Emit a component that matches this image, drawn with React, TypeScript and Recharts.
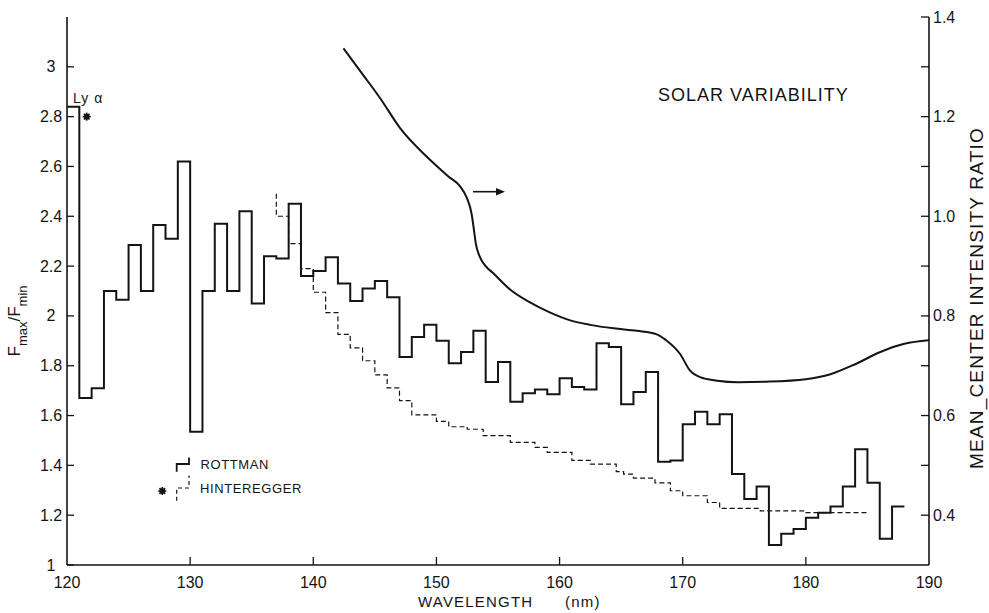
import React from 'react';
import { ComposedChart, Line, XAxis, YAxis, Scatter, Customized } from 'recharts';

// Rottman F_max/F_min, 1 nm bins (value holds from wl to next wl)
const rottmanWl = [120,121,122,123,124,125,126,127,128,129,130,131,132,133,134,135,136,137,138,139,140,141,142,143,144,145,146,147,148,149,150,151,152,153,154,155,156,157,158,159,160,161,162,163,164,165,166,167,168,169,170,171,172,173,174,175,176,177,178,179,180,181,182,183,184,185,186,187,188];
const rottmanRatio = [2.84,1.67,1.71,2.10,2.065,2.285,2.10,2.365,2.31,2.62,1.535,2.10,2.37,2.10,2.42,2.05,2.24,2.23,2.45,2.16,2.18,2.235,2.13,2.06,2.11,2.14,2.075,1.835,1.915,1.965,1.90,1.81,1.855,1.94,1.735,1.815,1.655,1.69,1.705,1.685,1.75,1.715,1.705,1.89,1.875,1.645,1.695,1.775,1.415,1.42,1.565,1.615,1.565,1.605,1.365,1.265,1.315,1.08,1.125,1.145,1.19,1.21,1.235,1.315,1.465,1.33,1.105,1.235,1.235];

// Hinteregger F_max/F_min (dashed steps)
const hintWl = [137,137,138,139,140,141,142,143,144,145,146,147,148,150,151,152.5,153.8,156,158,159,161,162.5,164.6,165.2,166,167.75,169,170,172,173,176.3,180,185];
const hintRatio = [2.49,2.40,2.29,2.19,2.095,2.013,1.926,1.872,1.82,1.763,1.711,1.66,1.603,1.577,1.555,1.545,1.519,1.492,1.472,1.452,1.42,1.405,1.375,1.365,1.349,1.33,1.298,1.278,1.251,1.227,1.217,1.21,1.21];

// Mean-center intensity ratio (right axis)
const mcWl = [142.45,144.07,145.43,147.05,149.2,150.97,151.92,152.47,152.87,153.06,153.2,153.5,154.0,154.6,155.98,157.6,159.2,160.87,162.5,164.4,166.3,167.9,168.6,169.8,170.6,171.4,172.8,174.5,176.8,180,182,184,186,188,190];
const mcRatio = [1.337,1.283,1.237,1.177,1.12,1.08,1.06,1.037,1.003,0.97,0.945,0.92,0.9,0.886,0.853,0.827,0.807,0.791,0.782,0.775,0.77,0.763,0.752,0.723,0.69,0.677,0.67,0.667,0.668,0.673,0.683,0.703,0.727,0.744,0.751];

// Hinteregger Ly alpha value
const lyWl = [121.6];
const lyRatio = [2.8];

const xTicks = [120,130,140,150,160,170,180,190];
const leftTicks = [1,1.2,1.4,1.6,1.8,2,2.2,2.4,2.6,2.8,3];
const rightTicks = [0.4,0.5,0.6,0.7,0.8,0.9,1.0,1.1,1.2,1.3,1.4];
const rightLabeled = [0.4,0.6,0.8,1.0,1.2,1.4];

const rottmanData = rottmanWl.map((w, i) => ({ wl: w, v: rottmanRatio[i] }));
const hintData = hintWl.map((w, i) => ({ wl: w, v: hintRatio[i] }));
const mcData = mcWl.map((w, i) => ({ wl: w, v: mcRatio[i] }));
const lyData = lyWl.map((w, i) => ({ wl: w, v: lyRatio[i] }));

const INK = '#141414';
const FONT = '"Liberation Sans", Arial, sans-serif';

const LeftTick = (p: any) => {
  const { x, y, payload } = p;
  return (
    <g>
      <line x1={x} x2={x + 7} y1={y} y2={y} stroke={INK} strokeWidth={1.3} />
      <text x={x - 16} y={y} textAnchor="middle" dominantBaseline="central" fontSize={16} fontFamily={FONT} fill={INK}>
        {String(payload.value)}
      </text>
    </g>
  );
};

const RightTick = (p: any) => {
  const { x, y, payload } = p;
  const lab = rightLabeled.some((v) => Math.abs(v - payload.value) < 1e-6);
  return (
    <g>
      <line x1={x} x2={x - 8} y1={y} y2={y} stroke={INK} strokeWidth={1.3} />
      {lab ? (
        <text x={x + 4} y={y} textAnchor="start" dominantBaseline="central" fontSize={16} fontFamily={FONT} fill={INK}>
          {Number(payload.value).toFixed(1)}
        </text>
      ) : null}
    </g>
  );
};

const BottomTick = (p: any) => {
  const { x, y, payload } = p;
  const inner = payload.value > 120 && payload.value < 190;
  return (
    <g>
      {inner ? <line x1={x} x2={x} y1={y} y2={y - 8} stroke={INK} strokeWidth={1.3} /> : null}
      <text x={x} y={y + 17} textAnchor="middle" dominantBaseline="central" fontSize={16} fontFamily={FONT} fill={INK}>
        {String(payload.value)}
      </text>
    </g>
  );
};

const TopTick = (p: any) => {
  const { x, y, payload } = p;
  const inner = payload.value > 120 && payload.value < 190;
  return inner ? <line x1={x} x2={x} y1={y} y2={y + 8} stroke={INK} strokeWidth={1.3} /> : <g />;
};

const Asterisk = ({ cx, cy }: any) => {
  const r = 4;
  const d = r * 0.7071;
  return (
    <g stroke={INK} strokeWidth={1.6}>
      <line x1={cx - r} x2={cx + r} y1={cy} y2={cy} />
      <line x1={cx} x2={cx} y1={cy - r} y2={cy + r} />
      <line x1={cx - d} x2={cx + d} y1={cy - d} y2={cy + d} />
      <line x1={cx - d} x2={cx + d} y1={cy + d} y2={cy - d} />
      <circle cx={cx} cy={cy} r={2} fill={INK} />
    </g>
  );
};

const Annotations = () => (
  <g fontFamily={FONT} fill={INK}>
    {/* Ly alpha */}
    <text x={73} y={98} fontSize={14} letterSpacing={1} dominantBaseline="central">Ly α</text>
    {/* title */}
    <text x={658} y={95} fontSize={18} letterSpacing={1} dominantBaseline="central">SOLAR VARIABILITY</text>
    {/* arrow */}
    <line x1={473} x2={498} y1={191.7} y2={191.7} stroke={INK} strokeWidth={1.6} />
    <path d="M505,191.7 L496,188 L496,195.4 Z" fill={INK} />
    {/* legend */}
    <path d="M176.7,471.7 V464 H189 V457.5" fill="none" stroke={INK} strokeWidth={1.8} />
    <text x={200.5} y={464.5} fontSize={13} letterSpacing={0.6} dominantBaseline="central">ROTTMAN</text>
    <path d="M176.7,500.7 V488 H189 V475.5" fill="none" stroke={INK} strokeWidth={1.2} strokeDasharray="4 3" />
    <text x={200} y={488.5} fontSize={13} letterSpacing={0.6} dominantBaseline="central">HINTEREGGER</text>
    <Asterisk cx={162.3} cy={491} />
    {/* axis titles */}
    <text x={418} y={601} fontSize={15} letterSpacing={1.2} dominantBaseline="central">WAVELENGTH</text>
    <text x={565} y={601} fontSize={15} letterSpacing={1.2} dominantBaseline="central">(nm)</text>
    <text x={20} y={321} transform="rotate(-90, 20, 321)" textAnchor="middle" fontSize={17}>
      F<tspan fontSize={13} dy={7}>max</tspan>
      <tspan dy={-7}>/F</tspan>
      <tspan fontSize={13} dy={7}>min</tspan>
    </text>
    <text x={983} y={298} transform="rotate(-90, 983, 298)" textAnchor="middle" fontSize={19} letterSpacing={1.2}>
      MEAN_CENTER INTENSITY RATIO
    </text>
  </g>
);

export default function App() {
  return (
    <div style={{ position: 'absolute', left: 0, top: 0, width: 989, height: 613, overflow: 'hidden', background: '#fff' }}>
      <ComposedChart width={989} height={613} margin={{ top: 17, right: 0, left: 0, bottom: 0 }}>
        <XAxis
          xAxisId="b"
          dataKey="wl"
          type="number"
          domain={[120, 190]}
          ticks={xTicks}
          allowDataOverflow
          height={48}
          tickSize={0}
          tickMargin={0}
          tickLine={false}
          tick={<BottomTick />}
          axisLine={{ stroke: INK, strokeWidth: 1.6 }}
        />
        <XAxis
          xAxisId="t"
          dataKey="wl"
          type="number"
          orientation="top"
          domain={[120, 190]}
          ticks={xTicks}
          allowDataOverflow
          height={0}
          tickSize={0}
          tickMargin={0}
          tickLine={false}
          tick={<TopTick />}
          axisLine={{ stroke: INK, strokeWidth: 1.6 }}
        />
        <YAxis
          yAxisId="left"
          type="number"
          domain={[1, 3.2]}
          ticks={leftTicks}
          allowDataOverflow
          width={67}
          tickSize={0}
          tickMargin={0}
          tickLine={false}
          tick={<LeftTick />}
          axisLine={{ stroke: INK, strokeWidth: 1.6 }}
        />
        <YAxis
          yAxisId="right"
          orientation="right"
          type="number"
          domain={[0.3, 1.4]}
          ticks={rightTicks}
          allowDataOverflow
          width={60}
          tickSize={0}
          tickMargin={0}
          tickLine={false}
          tick={<RightTick />}
          axisLine={{ stroke: INK, strokeWidth: 1.6 }}
        />
        <Line
          data={hintData}
          dataKey="v"
          xAxisId="b"
          yAxisId="left"
          type="stepAfter"
          stroke={INK}
          strokeWidth={1.2}
          strokeDasharray="5 3"
          dot={false}
          activeDot={false}
          isAnimationActive={false}
        />
        <Line
          data={rottmanData}
          dataKey="v"
          xAxisId="b"
          yAxisId="left"
          type="stepAfter"
          stroke={INK}
          strokeWidth={2}
          dot={false}
          activeDot={false}
          isAnimationActive={false}
        />
        <Line
          data={mcData}
          dataKey="v"
          xAxisId="b"
          yAxisId="right"
          type="monotone"
          stroke={INK}
          strokeWidth={2}
          dot={false}
          activeDot={false}
          isAnimationActive={false}
        />
        <Scatter
          data={lyData}
          dataKey="v"
          xAxisId="b"
          yAxisId="left"
          shape={<Asterisk />}
          isAnimationActive={false}
        />
        <Customized component={Annotations} />
      </ComposedChart>
    </div>
  );
}
